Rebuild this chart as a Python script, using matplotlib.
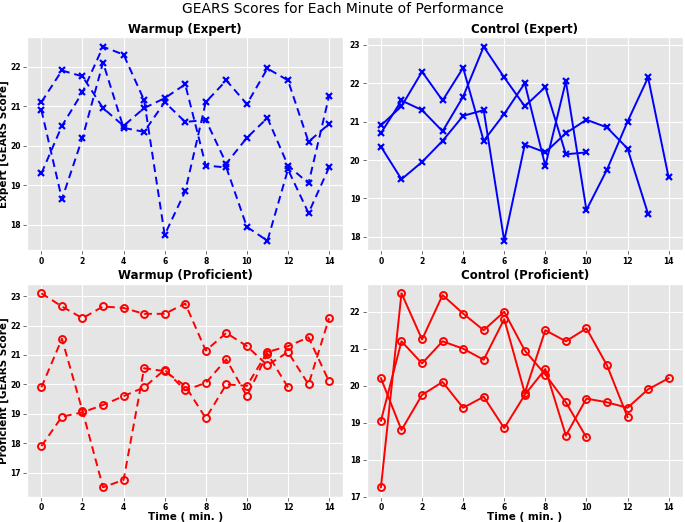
import matplotlib
matplotlib.use("Agg")
import matplotlib.pyplot as plt
from matplotlib.ticker import MultipleLocator

plt.style.use("ggplot")

minutes = list(range(15))

# Warmup, expert (dashed, x markers)
warmup_expert = [
    [21.1, 21.9, 21.75, 20.95, 20.5, 20.95, 21.2, 21.55, 19.5, 19.45, 17.95, 17.6, 19.4, 18.3, 19.45],
    [20.9, 18.65, 20.2, 22.1, 20.45, 20.35, 21.1, 20.6, 20.65, 19.55, 20.2, 20.7, 19.5, 19.05, 21.25],
    [19.3, 20.5, 21.35, 22.5, 22.3, 21.15, 17.75, 18.85, 21.1, 21.65, 21.05, 21.95, 21.65, 20.1, 20.55],
]

# Control, expert (solid, x markers)
control_expert = [
    [20.9, 21.4, 22.3, 21.55, 22.4, 20.5, 21.2, 22.0, 19.85, 22.05, 18.7, 19.75, 21.0, 22.15, 19.55],
    [20.7, 21.55, 21.3, 20.75, 21.65, 22.95, 22.15, 21.4, 21.9, 20.15, 20.2],
    [20.35, 19.5, 19.95, 20.5, 21.15, 21.3, 17.9, 20.4, 20.2, 20.7, 21.05, 20.85, 20.3, 18.6],
]

# Warmup, proficient (dashed, o markers)
warmup_proficient = [
    [23.1, 22.65, 22.25, 22.65, 22.6, 22.4, 22.4, 22.75, 21.15, 21.75, 21.3, 20.65, 21.1, 20.0, 22.25],
    [19.9, 21.55, 19.1, 16.5, 16.75, 20.55, 20.45, 19.95, 18.85, 20.0, 19.95, 21.1, 21.3, 21.6, 20.1],
    [17.9, 18.9, 19.05, 19.3, 19.6, 19.9, 20.5, 19.8, 20.05, 20.85, 19.6, 21.05, 19.9],
]

# Control, proficient (solid, o markers)
control_proficient = [
    [17.25, 22.5, 21.25, 22.45, 21.95, 21.5, 22.0, 20.95, 20.3, 19.55, 18.6],
    [19.05, 21.2, 20.6, 21.2, 21.0, 20.7, 21.8, 19.8, 21.5, 21.2, 21.55, 20.55, 19.15],
    [20.2, 18.8, 19.75, 20.1, 19.4, 19.7, 18.85, 19.75, 20.45, 18.65, 19.65, 19.55, 19.4, 19.9, 20.2],
]

fig, axes = plt.subplots(2, 2, figsize=(6.85, 5.22), dpi=100)
fig.subplots_adjust(left=27 / 685, right=683 / 685, top=1 - 37 / 522,
                    bottom=1 - 497 / 522, wspace=0.073, hspace=0.155)

panels = [
    (axes[0, 0], warmup_expert, "Warmup (Expert)", "b", "x", "--"),
    (axes[0, 1], control_expert, "Control (Expert)", "b", "x", "-"),
    (axes[1, 0], warmup_proficient, "Warmup (Proficient)", "r", "o", "--"),
    (axes[1, 1], control_proficient, "Control (Proficient)", "r", "o", "-"),
]

for ax, series, title, color, marker, ls in panels:
    for s in series:
        if marker == "o":
            ax.plot(minutes[:len(s)], s, color=color, linestyle=ls, linewidth=1.4,
                    dashes=(4, 2.5) if ls == "--" else (None, None),
                    marker="o", markersize=5, markerfacecolor="none",
                    markeredgewidth=1.4)
        else:
            ax.plot(minutes[:len(s)], s, color=color, linestyle=ls, linewidth=1.4,
                    dashes=(4, 2.5) if ls == "--" else (None, None),
                    marker="x", markersize=5, markeredgewidth=1.6)
    ax.set_title(title, fontsize=8.5, fontweight="bold", color="black", pad=3)
    ax.set_xticks(range(0, 15, 2))
    ax.yaxis.set_major_locator(MultipleLocator(1))
    ax.tick_params(length=3, width=0.6, pad=1.5)
    for lbl in ax.get_xticklabels() + ax.get_yticklabels():
        lbl.set_fontweight("bold")
        lbl.set_fontsize(5.5)
        lbl.set_color("black")

axes[0, 0].set_ylabel("Expert [GEARS Score]", fontsize=7.5, fontweight="bold", color="black", labelpad=1)
axes[1, 0].set_ylabel("Proficient [GEARS Score]", fontsize=7.5, fontweight="bold", color="black", labelpad=1)
axes[1, 0].set_xlabel("Time ( min. )", fontsize=7.5, fontweight="bold", color="black", labelpad=0)
axes[1, 1].set_xlabel("Time ( min. )", fontsize=7.5, fontweight="bold", color="black", labelpad=0)

fig.suptitle("GEARS Scores for Each Minute of Performance", fontsize=10, y=0.997)

fig.savefig("out.png", dpi=100)
